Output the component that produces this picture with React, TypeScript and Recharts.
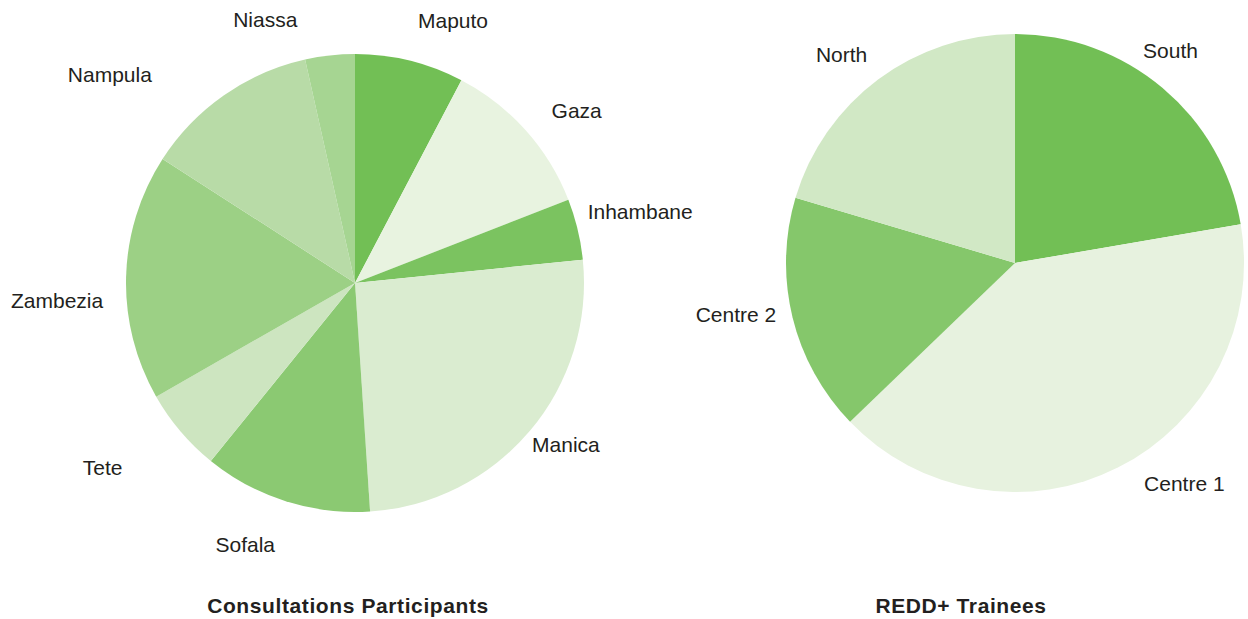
import { PieChart, Pie, Cell } from 'recharts';

const provinces = ['Maputo', 'Gaza', 'Inhambane', 'Manica', 'Sofala', 'Tete', 'Zambezia', 'Nampula', 'Niassa'];
const participants = [7.7, 11.4, 4.3, 25.6, 11.9, 5.9, 17.4, 12.4, 3.5];
const provinceColors = ['#72bf55', '#e8f3e0', '#7bc360', '#daecd0', '#8bc972', '#cde5c0', '#9cd085', '#b8dba7', '#a6d592'];

const regions = ['South', 'Centre 1', 'Centre 2', 'North'];
const trainees = [22.3, 40.5, 16.8, 20.4];
const regionColors = ['#72bf55', '#e7f2df', '#85c76b', '#d1e8c5'];

const consultData = provinces.map((name, i) => ({ name, value: participants[i] }));
const traineeData = regions.map((name, i) => ({ name, value: trainees[i] }));

// hand placed label nudges, as in the source layout
const nudge: Record<string, [number, number]> = {
    Maputo: [31, 9],
    Gaza: [13, 14],
    Inhambane: [13, -6],
    Manica: [-3, -19],
    Sofala: [-25, -5],
    Tete: [-39, 3],
    Zambezia: [-18, 25],
    Nampula: [-85, 21],
    Niassa: [-59, 15],
    South: [-25, 2],
    'Centre 1': [43, -29],
    'Centre 2': [-7, -15],
    North: [-6, 16],
};

const RADIAN = Math.PI / 180;

const renderLabel = (props: any) => {
    const { cx, cy, midAngle, outerRadius, name } = props;
    const r = outerRadius + 51;
    const [dx, dy] = nudge[name] || [0, 0];
    const x = cx + r * Math.cos(-midAngle * RADIAN) + dx;
    const y = cy + r * Math.sin(-midAngle * RADIAN) + dy;
    return (
        <text x={x} y={y} textAnchor="middle" dominantBaseline="central" fill="#231f20"
            style={{ fontFamily: '"Liberation Sans", Arial, sans-serif', fontSize: 21 }}>
            {name}
        </text>
    );
};

const titleStyle: React.CSSProperties = {
    position: 'absolute',
    top: 593,
    lineHeight: '26px',
    fontFamily: '"Liberation Sans", Arial, sans-serif',
    fontWeight: 'bold',
    fontSize: 21,
    letterSpacing: 0.6,
    color: '#231f20',
    transform: 'translateX(-50%)',
    whiteSpace: 'nowrap',
};

export default function App() {
    return (
        <div style={{ position: 'absolute', left: 0, top: 0, width: 1248, height: 619, background: '#fff' }}>
            <PieChart width={1248} height={619} margin={{ top: 0, right: 0, bottom: 0, left: 0 }}>
                <Pie data={consultData} dataKey="value" nameKey="name" cx={355} cy={283} outerRadius={229}
                    startAngle={90} endAngle={-270} stroke="none" label={renderLabel} labelLine={false}
                    isAnimationActive={false}>
                    {consultData.map((_, i) => (
                        <Cell key={`c-${i}`} fill={provinceColors[i]} />
                    ))}
                </Pie>
                <Pie data={traineeData} dataKey="value" nameKey="name" cx={1015} cy={263} outerRadius={229}
                    startAngle={90} endAngle={-270} stroke="none" label={renderLabel} labelLine={false}
                    isAnimationActive={false}>
                    {traineeData.map((_, i) => (
                        <Cell key={`t-${i}`} fill={regionColors[i]} />
                    ))}
                </Pie>
            </PieChart>
            <div style={{ ...titleStyle, left: 348 }}>Consultations Participants</div>
            <div style={{ ...titleStyle, left: 961 }}>REDD+ Trainees</div>
        </div>
    );
}
